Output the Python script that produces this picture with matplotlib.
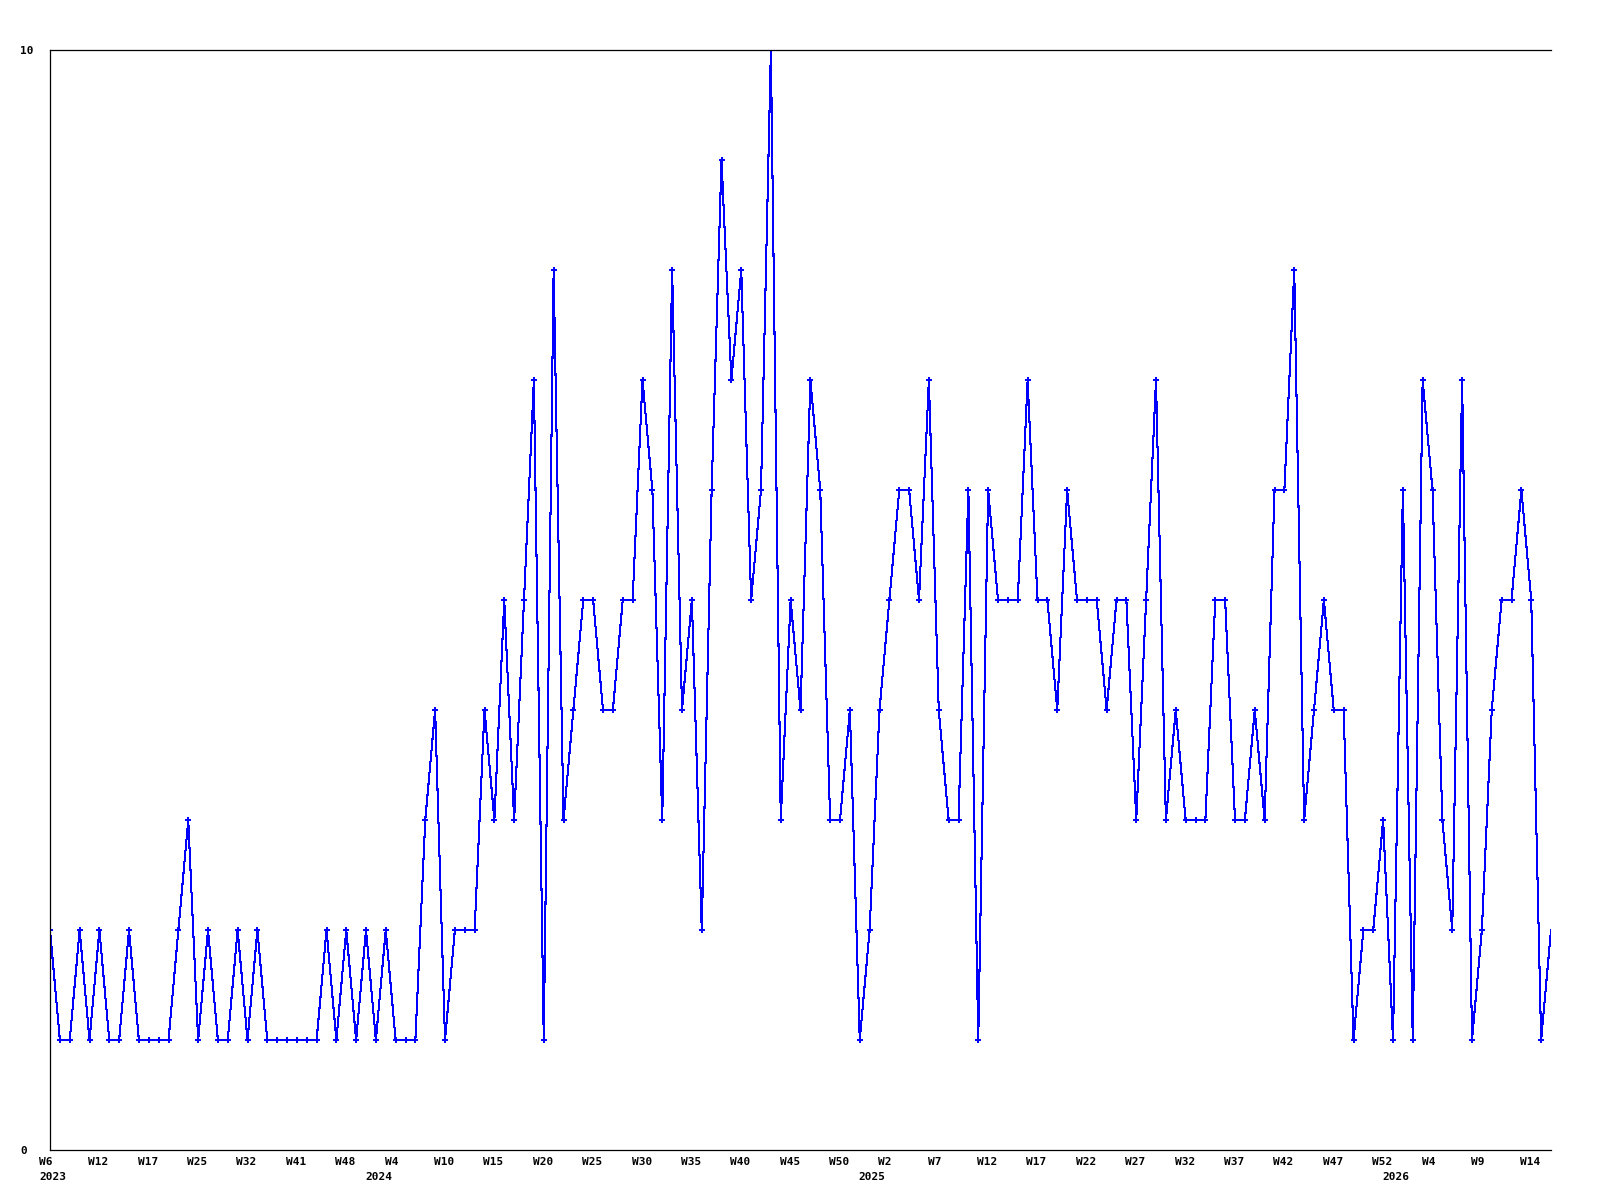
import numpy as np
import matplotlib
matplotlib.use("Agg")
import matplotlib.pyplot as plt
from matplotlib.transforms import ScaledTranslation

# weekly counts, one per point
values = [
    2, 1, 1, 2, 1, 2, 1, 1, 2, 1,
    1, 1, 1, 2, 3, 1, 2, 1, 1, 2,
    1, 2, 1, 1, 1, 1, 1, 1, 2, 1,
    2, 1, 2, 1, 2, 1, 1, 1, 3, 4,
    1, 2, 2, 2, 4, 3, 5, 3, 5, 7,
    1, 8, 3, 4, 5, 5, 4, 4, 5, 5,
    7, 6, 3, 8, 4, 5, 2, 6, 9, 7,
    8, 5, 6, 10, 3, 5, 4, 7, 6, 3,
    3, 4, 1, 2, 4, 5, 6, 6, 5, 7,
    4, 3, 3, 6, 1, 6, 5, 5, 5, 7,
    5, 5, 4, 6, 5, 5, 5, 4, 5, 5,
    3, 5, 7, 3, 4, 3, 3, 3, 5, 5,
    3, 3, 4, 3, 6, 6, 8, 3, 4, 5,
    4, 4, 1, 2, 2, 3, 1, 6, 1, 7,
    6, 3, 2, 7, 1, 2, 4, 5, 5, 6,
    5, 1, 2,
]

week_labels = ["W6", "W12", "W17", "W25", "W32", "W41", "W48", "W4", "W10", "W15",
               "W20", "W25", "W30", "W35", "W40", "W45", "W50", "W2", "W7", "W12",
               "W17", "W22", "W27", "W32", "W37", "W42", "W47", "W52", "W4", "W9",
               "W14"]
week_pos = list(range(0, 5 * len(week_labels), 5))

year_labels = ["2023", "2024", "2025", "2026"]
year_pos = [0, 33, 83, 136]

W, H = 1600, 1200
fig = plt.figure(figsize=(16, 12), dpi=100)
ax = fig.add_axes([50 / W, 50 / H, 1501 / W, 1100 / H])

x = np.arange(len(values))
ax.plot(x, values, color="#0000ff", lw=0.75, antialiased=False,
        marker="P", markersize=4.5, markeredgewidth=0,
        markevery=list(range(len(values) - 1)))

ax.set_xlim(0, len(values) - 1)
ax.set_ylim(0, 10)

for side in ["left", "bottom", "top"]:
    ax.spines[side].set_linewidth(0.9)
    ax.spines[side].set_color("black")
ax.spines["right"].set_visible(False)

font = dict(family="DejaVu Sans Mono", weight="bold", size=8)

ax.set_yticks([0, 10])
ax.set_yticklabels(["0", "10"], **font)
ax.tick_params(axis="y", length=0, pad=21.6)
for lbl in ax.get_yticklabels():
    lbl.set_horizontalalignment("left")

ax.xaxis.remove_overlapping_locs = False
ax.set_xticks(week_pos)
ax.set_xticklabels(week_labels, **font)
ax.set_xticks(year_pos, minor=True)
ax.set_xticklabels(year_labels, minor=True, **font)
ax.tick_params(axis="x", which="major", length=0, pad=5)
ax.tick_params(axis="x", which="minor", length=0, pad=15.5)

shift = ScaledTranslation(-11 / 100, 0, fig.dpi_scale_trans)
for lbl in ax.get_xticklabels() + ax.get_xticklabels(minor=True):
    lbl.set_horizontalalignment("left")
    lbl.set_transform(lbl.get_transform() + shift)

fig.savefig("out.png", dpi=100, facecolor="white")
